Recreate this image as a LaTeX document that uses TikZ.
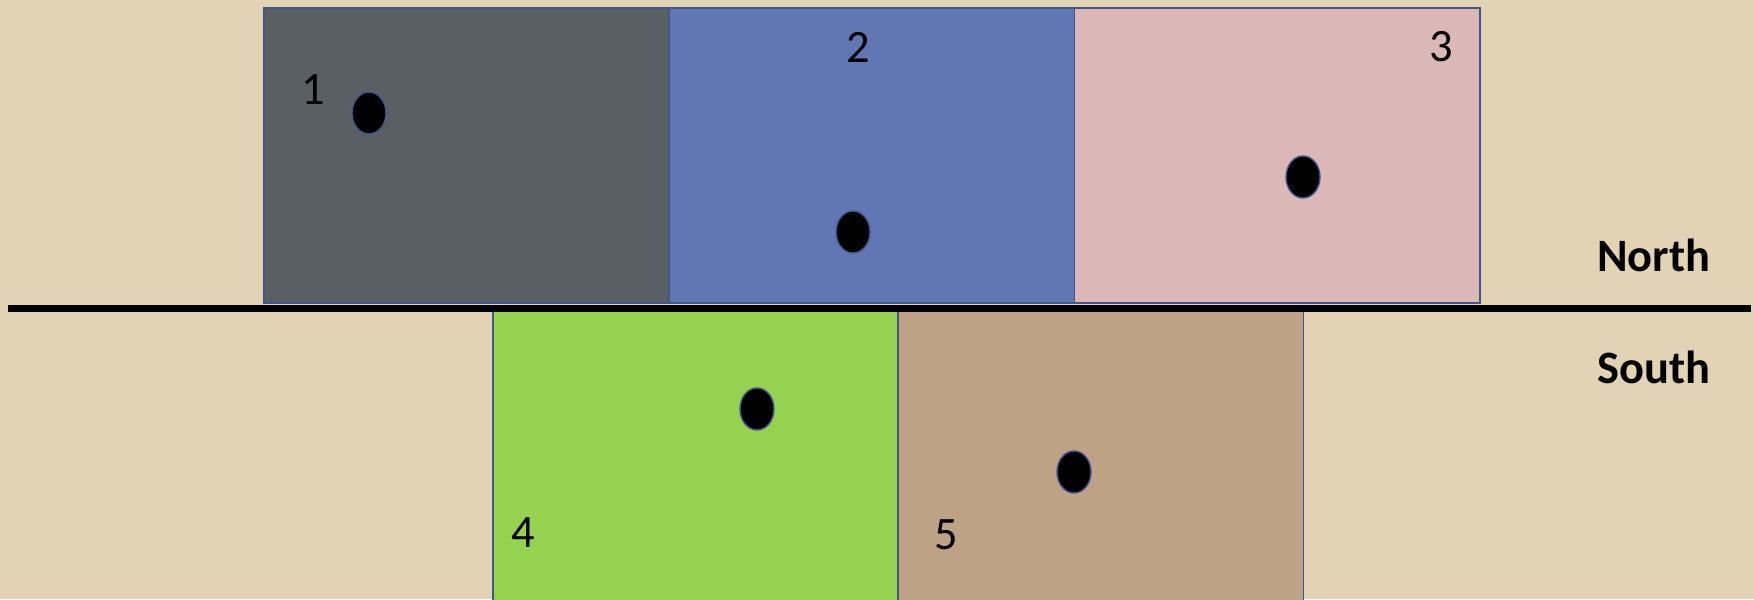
\documentclass[tikz,border=0pt]{standalone}
\usepackage{fontspec}
\setmainfont{Carlito}
\usetikzlibrary{positioning,shapes.geometric}

\definecolor{ground}{HTML}{E1D3B4}
\definecolor{edge}{HTML}{41568A}
\definecolor{zoneA}{HTML}{586063}
\definecolor{zoneB}{HTML}{6177B4}
\definecolor{zoneC}{HTML}{DBB7B7}
\definecolor{zoneD}{HTML}{94D250}
\definecolor{zoneE}{HTML}{BDA286}

\begin{document}
\begin{tikzpicture}[x=0.01cm,y=0.01cm,
   every node/.style={font=\fontsize{13.2pt}{16pt}\selectfont},
   zone/.style={draw=edge,line width=0.5pt,minimum width=4.05cm,
     minimum height=2.95cm,inner sep=0pt,outer sep=0pt},
   dot/.style={ellipse,draw=edge,fill=black,line width=0.4pt,
     minimum width=0.34cm,minimum height=0.42cm,inner sep=0pt},
   side/.style={font=\fontsize{13.2pt}{16pt}\selectfont\bfseries,
     anchor=east,inner sep=0pt}]
  \useasboundingbox (0,0) rectangle (1754,599);
  \clip (0,0) rectangle (1754,599);
  \fill[ground] (0,0) rectangle (1754,599);
  % north row
  \node[zone,fill=zoneA,anchor=north west] (r1) at (264,591) {};
  \node[zone,fill=zoneB,right=0pt of r1] (r2) {};
  \node[zone,fill=zoneC,right=0pt of r2] (r3) {};
  % south row
  \node[zone,fill=zoneD,anchor=north west] (r4) at (493,289) {};
  \node[zone,fill=zoneE,right=0pt of r4] (r5) {};
  % border line
  \coordinate (bw) at (8,291);
  \coordinate (be) at (1751,291);
  \draw[line width=0.07cm] (bw) -- (be);
  % points
  \node[dot] (d1) at (369,486) {};
  \node[dot] (d2) at (853,367) {};
  \node[dot] (d3) at (1303,422) {};
  \node[dot] (d4) at (757,190) {};
  \node[dot] (d5) at (1074,127) {};
  % numbers
  \node (n1) at (313,509) {1};
  \node (n2) at (858,552) {2};
  \node (n3) at (1441,552) {3};
  \node (n4) at (523,66) {4};
  \node (n5) at (946,64) {5};
  \node[side] (north) at (1711,344) {North};
  \node[side] (south) at (1711,232) {South};
\end{tikzpicture}
\end{document}
